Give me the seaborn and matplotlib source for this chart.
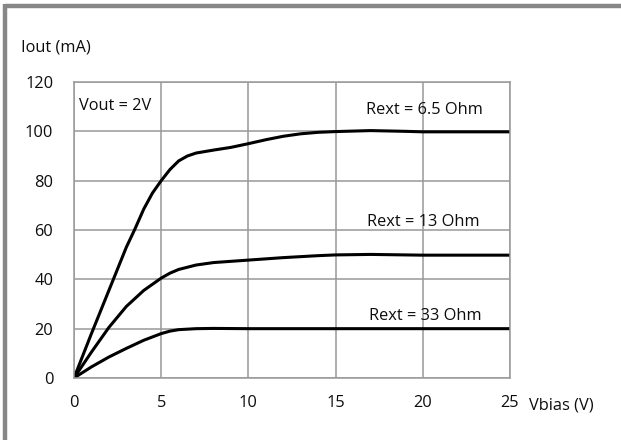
import matplotlib
matplotlib.use("Agg")
import matplotlib.pyplot as plt
from matplotlib.lines import Line2D
import seaborn as sns
import pandas as pd

# ---- data ----
x_65 = [0, 1, 2, 3, 3.5, 4, 4.5, 5, 5.5, 6, 6.5, 7, 8, 9, 10, 11, 12, 13, 14, 15, 17, 19, 20, 25]
y_65 = [0, 18, 35.5, 53, 60.5, 68.5, 75, 80, 84.5, 88, 90, 91.2, 92.4, 93.5, 95, 96.6, 98, 99, 99.6, 99.9, 100.3, 100, 99.8, 99.8]

x_13 = [0, 1, 2, 3, 4, 5, 5.5, 6, 7, 8, 9, 10, 12, 14, 15, 17, 20, 25]
y_13 = [0, 10.5, 20.5, 29, 35.5, 40.5, 42.5, 44, 45.8, 46.8, 47.3, 47.8, 48.8, 49.6, 49.9, 50.1, 49.8, 49.8]

x_33 = [0, 1, 2, 3, 4, 5, 5.5, 6, 7, 8, 10, 15, 20, 25]
y_33 = [0, 4.5, 8.5, 12, 15.3, 18, 19, 19.6, 20, 20.1, 20, 20, 20, 20]

series_names = ["Rext = 6.5 Ohm", "Rext = 13 Ohm", "Rext = 33 Ohm"]
x_ticks = [0, 5, 10, 15, 20, 25]
y_ticks = [0, 20, 40, 60, 80, 100, 120]

frames = []
for name, xs, ys in zip(series_names, [x_65, x_13, x_33], [y_65, y_13, y_33]):
    frames.append(pd.DataFrame({"Vbias": xs, "Iout": ys, "series": name}))
df = pd.concat(frames, ignore_index=True)

sns.set_style("white")
plt.rcParams['font.family'] = ['Open Sans', 'DejaVu Sans']

FS = 11.8
TC = "#0d0d0d"

fig = plt.figure(figsize=(6.21, 4.40), dpi=100)
ax = fig.add_axes([74/621, 62/440, 436/621, 296/440])

sns.lineplot(data=df, x="Vbias", y="Iout", hue="series", palette=["black"]*3,
             estimator=None, sort=True, linewidth=2.2, legend=False, ax=ax)

ax.set_xlim(0, 25)
ax.set_ylim(0, 120)
ax.set_xticks(x_ticks)
ax.set_yticks(y_ticks)
ax.set_xticklabels([str(t) for t in x_ticks])
ax.set_yticklabels([str(t) for t in y_ticks])
ax.grid(True, color="#999999", linewidth=1.1)
ax.set_axisbelow(True)
for s in ax.spines.values():
    s.set_color("#999999")
    s.set_linewidth(1.1)
ax.tick_params(axis="both", length=0, labelsize=FS, colors=TC)
ax.tick_params(axis="x", pad=12)
ax.tick_params(axis="y", pad=15)
ax.set_xlabel("")
ax.set_ylabel("")

ax.text(0.3, 110.3, "Vout = 2V", fontsize=FS, va="center", ha="left", color=TC)
ax.text(16.75, 108.6, series_names[0], fontsize=FS, va="center", ha="left", color=TC)
ax.text(16.8, 63.2, series_names[1], fontsize=FS, va="center", ha="left", color=TC)
ax.text(16.92, 25.1, series_names[2], fontsize=FS, va="center", ha="left", color=TC)

fig.text(21/621, 1 - 47/440, "Iout (mA)", fontsize=FS, va="center", ha="left", color=TC)
fig.text(529/621, 1 - 405/440, "Vbias (V)", fontsize=FS, va="center", ha="left", color=TC)

# gray frame on top and left edges
fig.add_artist(Line2D([5/621, 1], [1 - 6/440, 1 - 6/440], transform=fig.transFigure,
                      color="#878787", linewidth=3.2, solid_capstyle="butt"))
fig.add_artist(Line2D([5/621, 5/621], [0, 1 - 4/440], transform=fig.transFigure,
                      color="#878787", linewidth=3.2, solid_capstyle="butt"))

fig.savefig("out.png", dpi=100)
